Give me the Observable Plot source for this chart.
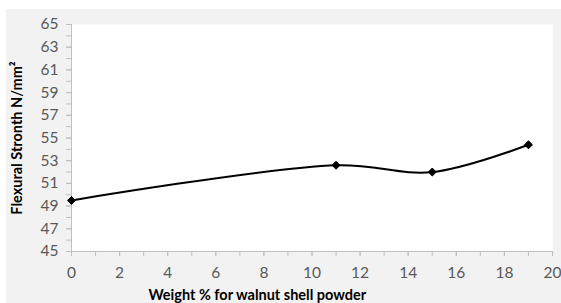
<!DOCTYPE html>
<html>
<head>
<meta charset="utf-8">
<script src="https://cdn.jsdelivr.net/npm/d3@7"></script>
<script src="https://cdn.jsdelivr.net/npm/@observablehq/plot@0.6"></script>
<style>
  html, body { margin: 0; padding: 0; background: #ffffff; overflow: hidden; }
  #chart { position: absolute; left: 6px; top: 9px; }
  #chart svg g[aria-label="y-axis tick label"] text,
  #chart svg g[aria-label="x-axis tick label"] text { font-size: 15.5px; }
</style>
</head>
<body>
<div id="chart"></div>
<script>
const weight = [0, 11, 15, 19];
const strength = [49.5, 52.6, 52.0, 54.4];
const xTicks = [0, 2, 4, 6, 8, 10, 12, 14, 16, 18, 20];
const yTicks = [45, 47, 49, 51, 53, 55, 57, 59, 61, 63, 65];
const xMinor = d3.range(0, 21, 1);
const yMinor = d3.range(45, 66, 1);
const xTitle = "Weight % for walnut shell powder";
const yTitle = "Flexural Stronth N/mm\u00B2";

const data = weight.map((w, i) => ({w, s: strength[i]}));

const font = "Lato, 'Open Sans', sans-serif";
const chart = Plot.plot({
  width: 555,
  height: 294,
  marginLeft: 65,
  marginRight: 9,
  marginTop: 15,
  marginBottom: 52,
  style: {background: "#f2f2f2", fontFamily: font, fontSize: "15.5px", color: "#595959"},
  x: {type: "linear", domain: [0, 20]},
  y: {type: "linear", domain: [45, 65]},
  marks: [
    Plot.frame({fill: "white", stroke: null}),
    Plot.axisX({ticks: xMinor, tickSize: 5, stroke: "#bfbfbf", tickFormat: () => "", label: null}),
    Plot.axisX({ticks: xTicks, tickSize: 5, tickPadding: 10, stroke: "#bfbfbf", fill: "#595959", fontSize: 15.5, label: null}),
    Plot.axisY({ticks: yMinor, tickSize: 5, stroke: "#bfbfbf", tickFormat: () => "", label: null}),
    Plot.axisY({ticks: yTicks, tickSize: 5, tickPadding: 8, stroke: "#bfbfbf", fill: "#595959", fontSize: 15.5, label: null}),
    Plot.ruleY([45], {stroke: "#bfbfbf"}),
    Plot.ruleX([0], {stroke: "#bfbfbf"}),
    Plot.line(data, {x: "w", y: "s", curve: "catmull-rom", stroke: "black", strokeWidth: 2}),
    Plot.dot(data, {x: "w", y: "s", symbol: "diamond2", fill: "black", stroke: "black", strokeWidth: 1, r: 3.6}),
    Plot.text([xTitle], {frameAnchor: "bottom-left", dx: 77, dy: 38, text: d => d, fill: "black", fontWeight: "bold", fontSize: 14.5, textAnchor: "start", lineAnchor: "top"}),
    Plot.text([yTitle], {frameAnchor: "left", dx: -54, rotate: -90, text: d => d, fill: "black", fontWeight: "bold", fontSize: 14.5, textAnchor: "middle"})
  ]
});
document.getElementById("chart").appendChild(chart);
</script>
</body>
</html>
